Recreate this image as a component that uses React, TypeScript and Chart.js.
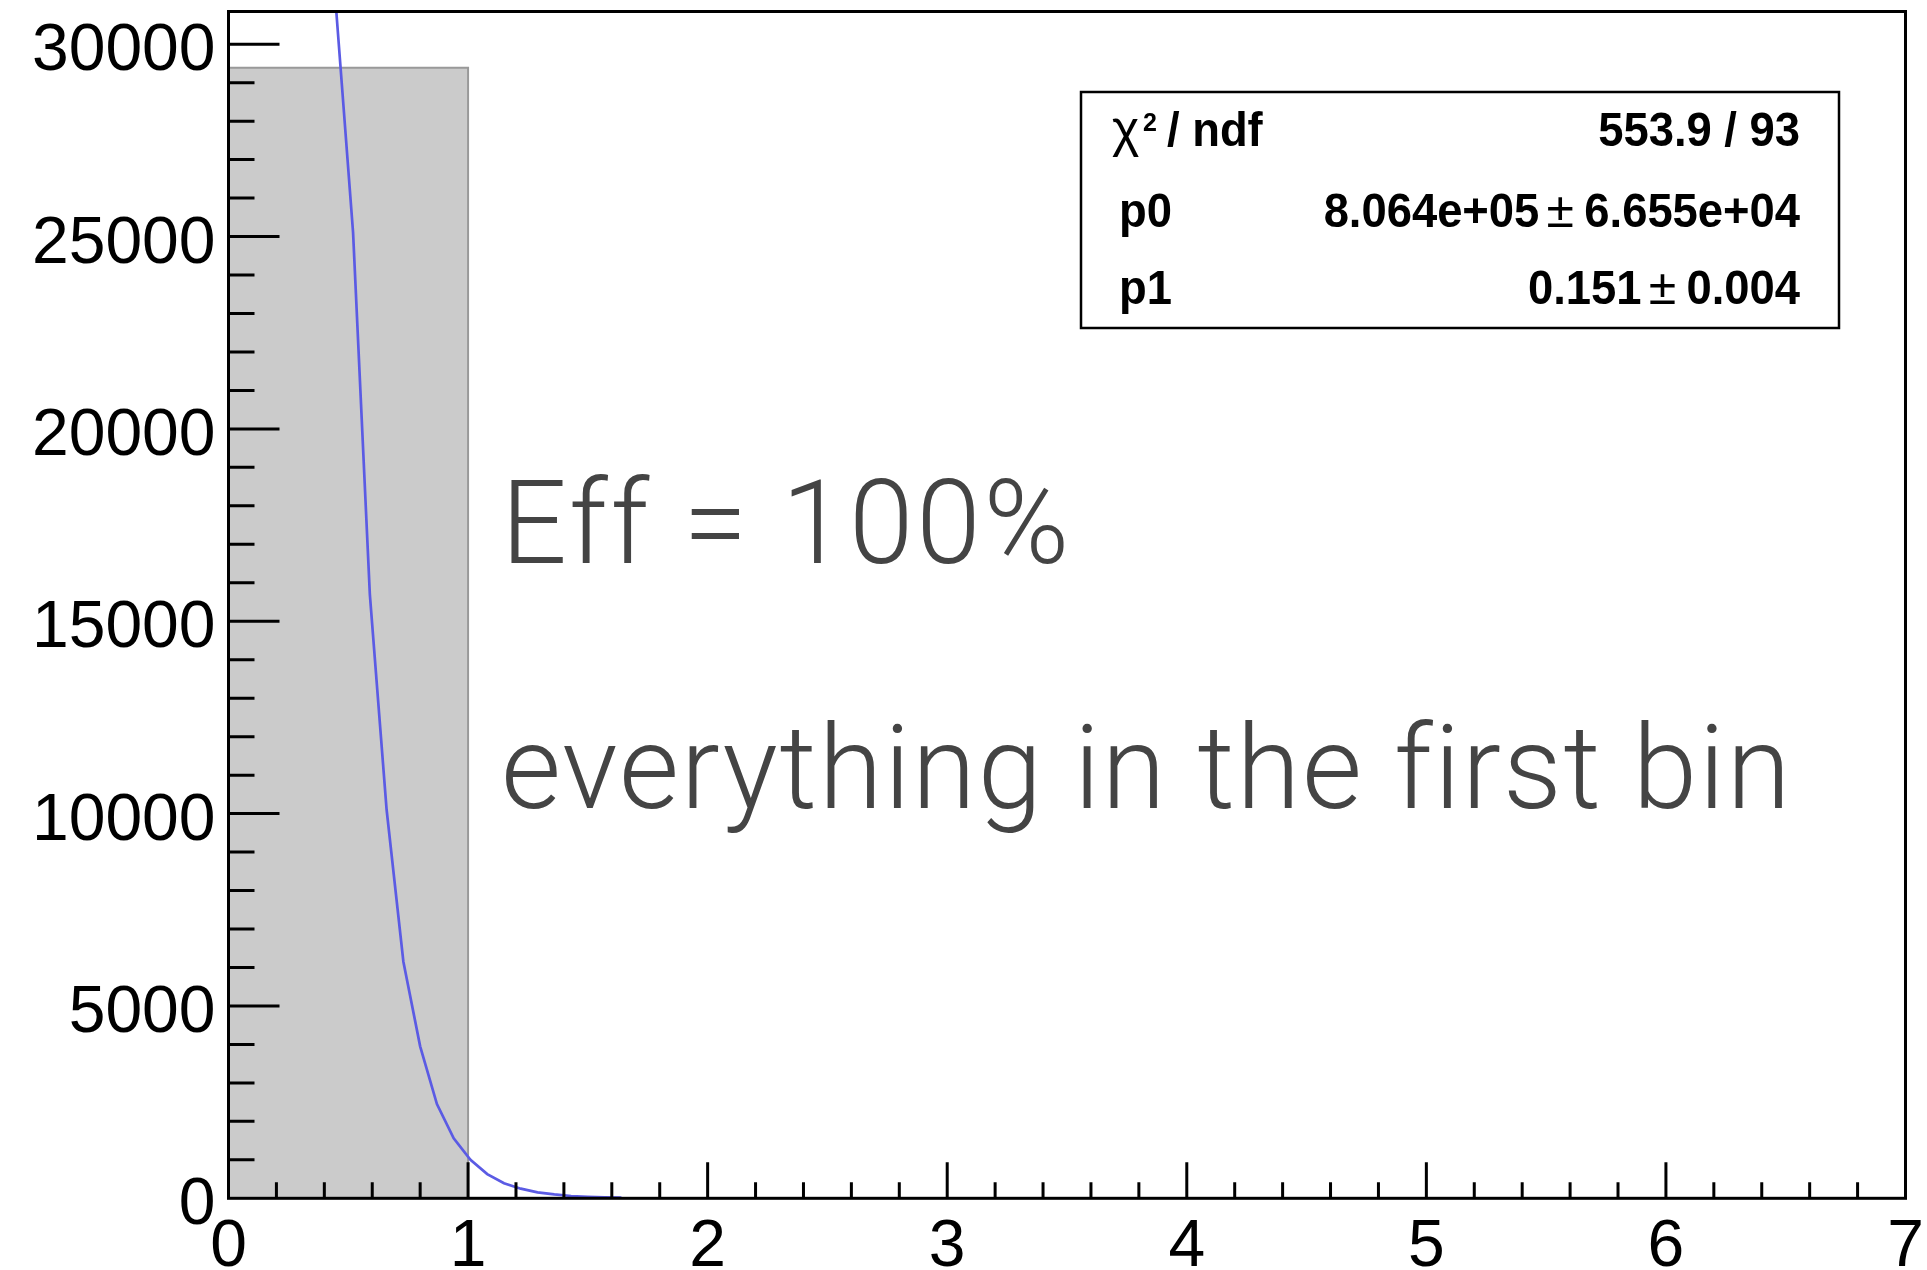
import React, { useEffect, useRef } from "react";
import { Chart, registerables } from "chart.js";

Chart.register(...registerables);

// ---- data ----
const binEdges = [0, 1];
const binContents = [29390];

const fitX = [0.45, 0.52, 0.59, 0.66, 0.73, 0.8, 0.87, 0.94, 1.01, 1.08, 1.15, 1.22, 1.29, 1.36, 1.43, 1.5, 1.57, 1.64];
const fitY = [30850, 25100, 15700, 10100, 6150, 3950, 2450, 1560, 1000, 630, 390, 250, 155, 100, 60, 40, 25, 15];

const xRange = [0, 7];
const yRange = [0, 30850];

const xMajorTicks = [0, 1, 2, 3, 4, 5, 6, 7];
const xTickLabels = ["0", "1", "2", "3", "4", "5", "6", "7"];
const xMinorStep = 0.2;

const yMajorTicks = [0, 5000, 10000, 15000, 20000, 25000, 30000];
const yTickLabels = ["0", "5000", "10000", "15000", "20000", "25000", "30000"];
const yMinorStep = 1000;

const statsNames = ["/ ndf", "p0", "p1"];
const statsValues = ["553.9 / 93", "8.064e+05", "0.151"];
const statsErrors = ["", "6.655e+04", "0.004"];

const annotations = ["Eff = 100%", "everything in the first bin"];

// ---- styles ----
const LABEL_FONT = '"Liberation Sans", Arial, Helvetica, sans-serif';
const BIG_FONT = 'Roboto, "Open Sans", Lato, sans-serif';
const SX = 0.945; // horizontal condensing of the stats box text

function drawText(ctx: any, text: string, x: number, y: number, align: "left" | "right" | "center", sx: number) {
  ctx.save();
  ctx.translate(x, y);
  ctx.scale(sx, 1);
  ctx.textAlign = align;
  ctx.fillText(text, 0, 0);
  ctx.restore();
}

const rootPlugin = {
  id: "rootFrame",
  afterDatasetsDraw(chart: any) {
    const { ctx, chartArea: ca, scales } = chart;
    const x = scales.x;
    const y = scales.y;
    ctx.save();

    // annotation text
    ctx.fillStyle = "#444444";
    ctx.textAlign = "left";
    ctx.textBaseline = "alphabetic";
    ctx.font = `300 116px ${BIG_FONT}`;
    try {
      ctx.letterSpacing = "3px";
    } catch (e) {}
    ctx.fillText(annotations[0], 501, 563);
    try {
      ctx.letterSpacing = "1.8px";
    } catch (e) {}
    ctx.fillText(annotations[1], 501, 808);
    try {
      ctx.letterSpacing = "0px";
    } catch (e) {}

    // frame
    ctx.strokeStyle = "#000";
    ctx.lineWidth = 3;
    ctx.strokeRect(ca.left, ca.top, ca.right - ca.left, ca.bottom - ca.top);

    // ticks (inside the frame)
    ctx.beginPath();
    const nYMinor = Math.floor((yRange[1] - yRange[0]) / yMinorStep);
    for (let i = 1; i <= nYMinor; i++) {
      const v = yRange[0] + i * yMinorStep;
      const major = yMajorTicks.indexOf(v) >= 0;
      const py = y.getPixelForValue(v);
      ctx.moveTo(ca.left, py);
      ctx.lineTo(ca.left + (major ? 51 : 26), py);
    }
    const nXMinor = Math.round((xRange[1] - xRange[0]) / xMinorStep);
    for (let i = 1; i < nXMinor; i++) {
      const v = xRange[0] + i * xMinorStep;
      const major = Math.abs(v - Math.round(v)) < 1e-6;
      const px = x.getPixelForValue(v);
      ctx.moveTo(px, ca.bottom);
      ctx.lineTo(px, ca.bottom - (major ? 36 : 16));
    }
    ctx.stroke();

    // tick labels
    ctx.fillStyle = "#000";
    ctx.font = `66px ${LABEL_FONT}`;
    ctx.textAlign = "right";
    yMajorTicks.forEach((v, i) => {
      ctx.fillText(yTickLabels[i], ca.left - 13, y.getPixelForValue(v) + 26);
    });
    ctx.textAlign = "center";
    xMajorTicks.forEach((v, i) => {
      ctx.fillText(xTickLabels[i], x.getPixelForValue(v), ca.bottom + 68);
    });

    // stats box
    const bx = 1081, by = 92, bw = 758, bh = 236;
    ctx.fillStyle = "#fff";
    ctx.fillRect(bx, by, bw, bh);
    ctx.lineWidth = 2.5;
    ctx.strokeStyle = "#000";
    ctx.strokeRect(bx, by, bw, bh);

    const baselines = [146, 227, 303.5];
    const leftX = 1119;
    const rightX = 1800;
    ctx.fillStyle = "#000";
    // row 0: chi2 / ndf
    ctx.font = `52px ${LABEL_FONT}`;
    drawText(ctx, "χ", 1112, baselines[0], "left", 1);
    ctx.font = `bold 25px ${LABEL_FONT}`;
    drawText(ctx, "2", 1143, 131, "left", 1);
    ctx.font = `bold 48px ${LABEL_FONT}`;
    drawText(ctx, statsNames[0], 1167, baselines[0], "left", SX);
    drawText(ctx, statsNames[1], leftX, baselines[1], "left", SX);
    drawText(ctx, statsNames[2], leftX, baselines[2], "left", SX);

    for (let r = 0; r < 3; r++) {
      ctx.font = `bold 48px ${LABEL_FONT}`;
      if (!statsErrors[r]) {
        drawText(ctx, statsValues[r], rightX, baselines[r], "right", SX);
      } else {
        const errW = ctx.measureText(statsErrors[r]).width * SX;
        drawText(ctx, statsErrors[r], rightX, baselines[r], "right", SX);
        const errStart = rightX - errW;
        drawText(ctx, statsValues[r], errStart - 45, baselines[r], "right", SX);
        ctx.font = `50px ${LABEL_FONT}`;
        drawText(ctx, "±", errStart - 24, baselines[r], "center", 1);
      }
    }

    ctx.restore();
  },
};

export default function App() {
  const canvasRef = useRef<HTMLCanvasElement | null>(null);

  useEffect(() => {
    const canvas = canvasRef.current;
    if (!canvas) return;

    const histPoints: { x: number; y: number }[] = [{ x: binEdges[0], y: 0 }];
    binContents.forEach((c, i) => {
      histPoints.push({ x: binEdges[i], y: c });
      histPoints.push({ x: binEdges[i + 1], y: c });
    });
    histPoints.push({ x: binEdges[binEdges.length - 1], y: 0 });

    const fitPoints = fitX.map((v, i) => ({ x: v, y: fitY[i] }));

    const W = 1927;
    const H = 1270;
    const chart = new Chart(canvas, {
      type: "line",
      data: {
        datasets: [
          {
            data: histPoints,
            order: 2,
            fill: "origin",
            backgroundColor: "#cbcbcb",
            borderColor: "#999999",
            borderWidth: 2,
            pointRadius: 0,
            tension: 0,
          },
          {
            data: fitPoints,
            order: 1,
            fill: false,
            borderColor: "#5b5be4",
            borderWidth: 2.7,
            pointRadius: 0,
            tension: 0,
          },
        ],
      },
      options: {
        animation: false,
        responsive: false,
        events: [],
        layout: {
          padding: { left: 228.5, top: 11.5, right: W - 1905.5, bottom: H - 1198.3 },
        },
        plugins: {
          legend: { display: false },
          tooltip: { enabled: false },
        },
        scales: {
          x: { type: "linear", min: xRange[0], max: xRange[1], display: false },
          y: { type: "linear", min: yRange[0], max: yRange[1], display: false },
        },
      },
      plugins: [rootPlugin],
    });

    return () => chart.destroy();
  }, []);

  return (
    <div style={{ position: "fixed", left: 0, top: 0, width: 1927, height: 1270, background: "#fff" }}>
      <canvas ref={canvasRef} width={1927} height={1270} style={{ display: "block" }} />
    </div>
  );
}
